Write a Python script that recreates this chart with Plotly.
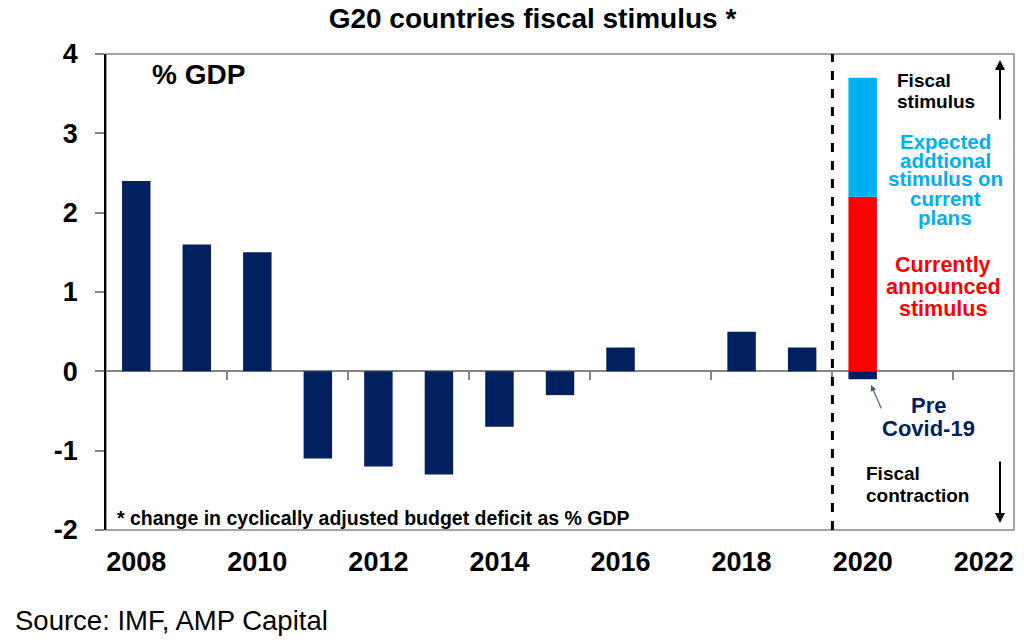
import plotly.graph_objects as go

# ---- data ----
years = [2008, 2009, 2010, 2011, 2012, 2013, 2014, 2015, 2016, 2017, 2018, 2019, 2020, 2021, 2022]
pre_covid = [2.4, 1.6, 1.5, -1.1, -1.2, -1.3, -0.7, -0.3, 0.3, None, 0.5, 0.3, -0.1, None, None]
announced = [None] * 12 + [2.2, None, None]
expected_additional = [None] * 12 + [1.5, None, None]

x_tick_labels = ["2008", "2010", "2012", "2014", "2016", "2018", "2020", "2022"]
x_tick_vals = [2008, 2010, 2012, 2014, 2016, 2018, 2020, 2022]
zero_line_ticks = [2009.5, 2011.5, 2013.5, 2015.5, 2017.5, 2019.5, 2021.5]
y_ticks = [-2, -1, 0, 1, 2, 3, 4]
y_tick_labels = ["-2", "-1", "0", "1", "2", "3", "4"]
divider_year = 2019.5

NAVY = "#002060"
RED = "#FF0000"
LIGHT_BLUE = "#00B0F0"
GREY = "#868686"
FONT = "Liberation Sans"

fig = go.Figure()
fig.add_trace(go.Bar(x=years, y=pre_covid, marker=dict(color=NAVY, line=dict(width=0)),
                     name="Pre Covid-19", showlegend=False))
fig.add_trace(go.Bar(x=years, y=announced, marker=dict(color=RED, line=dict(width=0)),
                     name="Currently announced stimulus", showlegend=False))
fig.add_trace(go.Bar(x=years, y=expected_additional, marker=dict(color=LIGHT_BLUE, line=dict(width=0)),
                     name="Expected additional stimulus", showlegend=False))
# helper trace so the zero-line tick axis is drawn
fig.add_trace(go.Scatter(x=[None], y=[None], xaxis="x2", showlegend=False, hoverinfo="skip"))

fig.update_layout(
    width=1024, height=644,
    margin=dict(l=106, r=10, t=54, b=114),
    paper_bgcolor="white", plot_bgcolor="white",
    barmode="relative", bargap=0.53,
    font=dict(family=FONT, color="black"),
    title=dict(text="G20 countries fiscal stimulus *", x=0.52, xanchor="center",
               y=0.972, yanchor="middle",
               font=dict(family=FONT, size=28, weight="bold", color="black")),
    xaxis=dict(range=[2007.5, 2022.5], tickvals=x_tick_vals, ticktext=x_tick_labels,
               ticks="", showgrid=False, zeroline=False, showline=False,
               tickfont=dict(family=FONT, size=27, weight="bold", color="black"),
               ticklabelstandoff=13),
    xaxis2=dict(range=[2007.5, 2022.5], overlaying="x", anchor="free", position=1/3,
                tickvals=zero_line_ticks, ticks="outside", ticklen=8, tickwidth=1.5,
                tickcolor=GREY, showticklabels=False, showgrid=False, zeroline=False,
                showline=False),
    yaxis=dict(range=[-2, 4], tickvals=y_ticks, ticktext=y_tick_labels, ticks="outside",
               ticklen=9, tickwidth=1.5,
               tickcolor=GREY, showgrid=False, zeroline=True, zerolinecolor=GREY,
               zerolinewidth=1.5, showline=True, linecolor="black", linewidth=1.5,
               tickfont=dict(family=FONT, size=27, weight="bold", color="black"),
               ticklabelstandoff=12),
)

# plot border (grey box)
fig.add_shape(type="rect", xref="paper", yref="paper", x0=0, x1=1, y0=0, y1=1,
              line=dict(color=GREY, width=1.5), layer="below")
# dashed divider
fig.add_shape(type="line", xref="x", yref="paper", x0=divider_year, x1=divider_year, y0=0, y1=1,
              line=dict(color="black", width=3, dash="dash"), layer="above")

def px_to_paper(px, py):
    return (px - 106) / 908, (530 - py) / 476

def add_text(text, px, py, size, color, xanchor="center", weight="bold"):
    x, y = px_to_paper(px, py)
    fig.add_annotation(text=text, x=x, y=y, xref="paper", yref="paper", showarrow=False,
                       xanchor=xanchor, yanchor="middle", borderpad=0,
                       font=dict(family=FONT, size=size, color=color, weight=weight))

add_text("% GDP", 198, 75, 28, "black")
add_text("* change in cyclically adjusted budget deficit as % GDP", 116, 518, 19.5, "black", xanchor="left")

add_text("Fiscal", 896, 80, 19, "black", xanchor="left")
add_text("stimulus", 896, 101, 19, "black", xanchor="left")

for i, line in enumerate(["Expected", "addtional", "stimulus on", "current", "plans"]):
    add_text(line, 945, 141 + i * 19, 20.5, LIGHT_BLUE)
for i, line in enumerate(["Currently", "announced", "stimulus"]):
    add_text(line, 943, 265 + i * 22, 21.5, RED)
for i, line in enumerate(["Pre", "Covid-19"]):
    add_text(line, 928, 405 + i * 23, 22, NAVY)

add_text("Fiscal", 865, 473, 19, "black", xanchor="left")
add_text("contraction", 865, 495, 19, "black", xanchor="left")

# source (paper coordinates relative to plot area)
add_text("Source: IMF, AMP Capital", 14, 620, 27.5, "black", xanchor="left", weight="normal")

# arrows
def add_arrow(head_px, head_py, tail_px, tail_py, color, width, size):
    x, y = px_to_paper(head_px, head_py)
    fig.add_annotation(text="", x=x, y=y, xref="paper", yref="paper", showarrow=True,
                       ax=tail_px - head_px, ay=tail_py - head_py, arrowhead=2,
                       arrowsize=size, arrowwidth=width, arrowcolor=color)

add_arrow(1000, 60, 1000, 121, "black", 2, 1)
add_arrow(1000, 523, 1000, 460, "black", 2, 1)
add_arrow(871, 385, 882, 410, "#4a5f8a", 1.2, 1)

fig.write_html("out.html", config={"displayModeBar": False},
               post_script="document.body.style.margin='0px';document.body.style.overflow='hidden';")
